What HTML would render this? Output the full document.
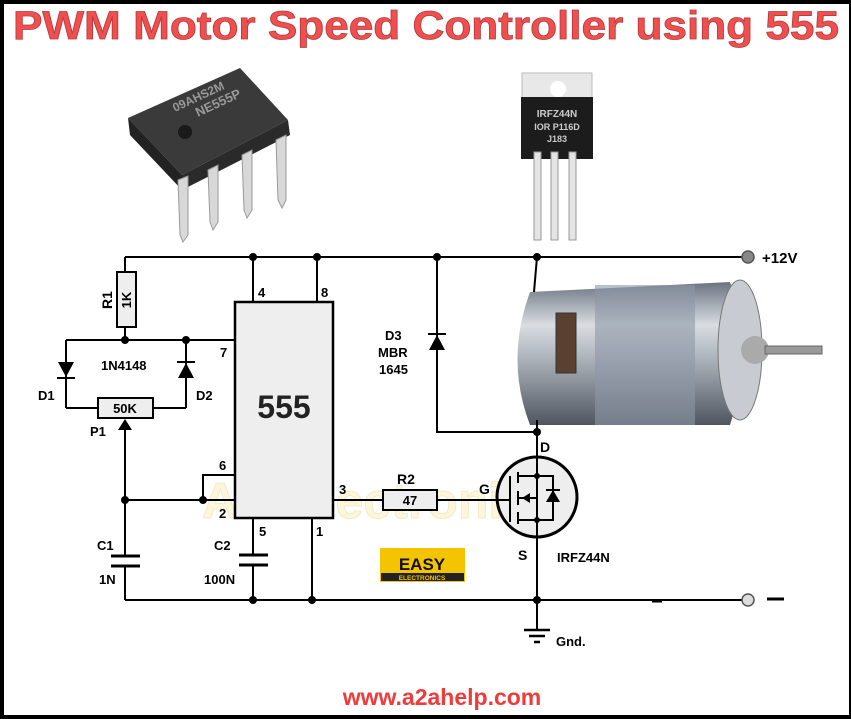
<!DOCTYPE html>
<html><head><meta charset="utf-8"><style>
html,body{margin:0;padding:0;background:#000}
svg{display:block}
text{font-family:"Liberation Sans",sans-serif;font-weight:bold}
</style></head><body>
<svg width="851" height="719" viewBox="0 0 851 719" xmlns="http://www.w3.org/2000/svg">
<rect x="0" y="0" width="851" height="719" fill="#000"/>
<rect x="4" y="4" width="845" height="711" fill="#fff"/>
<text x="426" y="39" text-anchor="middle" font-size="40" fill="#ef4f4f" stroke="#b83a3a" stroke-width="0.8" textLength="826" lengthAdjust="spacingAndGlyphs">PWM Motor Speed Controller using 555</text>

<!-- watermark -->
<text x="380" y="518" font-size="50" text-anchor="middle" fill="#fcf6dc" stroke="#f3ebc4" stroke-width="1">A2aelectronics</text>

<!-- IC chip image -->
<g>
<polygon points="128,118 240,68 288,120 182,175" fill="#3a3a3a"/>
<polygon points="128,118 182,175 182,190 130,135" fill="#222"/>
<polygon points="182,175 288,120 290,135 182,190" fill="#2a2a2a"/>
<circle cx="185" cy="132" r="7" fill="#1a1a1a"/>
<text x="175" y="112" font-size="12" fill="#999" transform="rotate(-25 175 112)">09AHS2M</text>
<text x="198" y="117" font-size="13" fill="#999" transform="rotate(-25 198 117)">NE555P</text>
<g fill="#d8d8d8" stroke="#999" stroke-width="1">
<polygon points="178,180 188,176 188,235 183,242 180,235"/>
<polygon points="208,170 218,165 218,222 213,230 210,222"/>
<polygon points="242,155 252,150 252,210 247,218 244,210"/>
<polygon points="276,140 286,135 286,200 282,208 278,200"/>
</g>
</g>

<!-- Transistor image -->
<g>
<rect x="522" y="73" width="70" height="26" fill="#e8e8e8" stroke="#bbb"/>
<circle cx="558" cy="89" r="8" fill="#fff"/>
<rect x="521" y="97" width="72" height="62" fill="#1c1c1c"/>
<text x="557" y="117" font-size="10" fill="#ccc" text-anchor="middle" font-family="Liberation Mono">IRFZ44N</text>
<text x="557" y="130" font-size="9" fill="#ccc" text-anchor="middle" font-family="Liberation Mono">IOR P116D</text>
<text x="557" y="142" font-size="9" fill="#ccc" text-anchor="middle" font-family="Liberation Mono">J183</text>
<g fill="#e4e4e4" stroke="#999">
<rect x="534" y="152" width="7" height="88"/><rect x="551" y="152" width="7" height="88"/><rect x="569" y="152" width="7" height="88"/>
</g>
</g>

<!-- Motor image -->
<defs>
<linearGradient id="mg" x1="0" y1="0" x2="0" y2="1">
<stop offset="0" stop-color="#6a7380"/><stop offset="0.3" stop-color="#d9dde2"/><stop offset="0.55" stop-color="#a9b0b8"/><stop offset="1" stop-color="#4f5660"/>
</linearGradient>
</defs>
<g>
<path d="M530,292 L730,282 Q755,350 730,425 L530,425 Q505,360 530,292 Z" fill="url(#mg)"/>
<rect x="595" y="285" width="100" height="140" fill="#8e98a6" opacity="0.6"/>
<rect x="556" y="313" width="20" height="60" fill="#5a4030" stroke="#333"/>
<ellipse cx="740" cy="350" rx="22" ry="70" fill="#c8ccd2" stroke="#777"/>
<circle cx="755" cy="350" r="14" fill="#aaa"/>
<rect x="765" y="346" width="57" height="8" fill="#999" stroke="#666"/>
</g>

<!-- Wires -->
<g stroke="#000" stroke-width="2" fill="none">
<line x1="125" y1="257" x2="742" y2="257"/>
<line x1="125" y1="600" x2="742" y2="600"/>
<line x1="125" y1="257" x2="125" y2="272"/>
<line x1="125" y1="327" x2="125" y2="340"/>
<line x1="66" y1="340" x2="235" y2="340"/>
<line x1="66" y1="340" x2="66" y2="408"/>
<line x1="186" y1="340" x2="186" y2="408"/>
<line x1="66" y1="408" x2="98" y2="408"/>
<line x1="153" y1="408" x2="186" y2="408"/>
<line x1="125" y1="428" x2="125" y2="556"/>
<line x1="125" y1="566" x2="125" y2="600"/>
<line x1="125" y1="500" x2="235" y2="500"/>
<polyline points="203,500 203,475 235,475"/>
<line x1="253" y1="257" x2="253" y2="302"/>
<line x1="317" y1="257" x2="317" y2="302"/>
<line x1="253" y1="518" x2="253" y2="555"/>
<line x1="253" y1="565" x2="253" y2="600"/>
<line x1="312" y1="518" x2="312" y2="600"/>
<line x1="333" y1="500" x2="383" y2="500"/>
<line x1="437" y1="500" x2="508" y2="500"/>
<polyline points="437,257 437,432 537,432"/>
<line x1="537" y1="257" x2="534" y2="292"/>
<line x1="537" y1="420" x2="537" y2="630"/>
<line x1="111" y1="556" x2="140" y2="556" stroke-width="3"/>
<line x1="111" y1="566" x2="140" y2="566" stroke-width="3"/>
<line x1="239" y1="555" x2="268" y2="555" stroke-width="3"/>
<line x1="239" y1="565" x2="268" y2="565" stroke-width="3"/>
<line x1="524" y1="630" x2="550" y2="630" stroke-width="2.5"/>
<line x1="529" y1="636" x2="545" y2="636" stroke-width="2.5"/>
<line x1="534" y1="642" x2="540" y2="642" stroke-width="2.5"/>
<line x1="652" y1="601" x2="662" y2="601" stroke-width="3"/>
</g>

<!-- R1 -->
<rect x="117" y="272" width="19" height="55" fill="#eee" stroke="#000" stroke-width="2"/>
<text x="0" y="0" font-size="13" transform="translate(131,300) rotate(-90)" text-anchor="middle">1K</text>
<text x="0" y="0" font-size="14" transform="translate(112,300) rotate(-90)" text-anchor="middle">R1</text>
<!-- diodes -->
<polygon points="58,362 74,362 66,377" fill="#000"/><line x1="57" y1="378" x2="75" y2="378" stroke="#000" stroke-width="2"/>
<polygon points="178,378 194,378 186,363" fill="#000"/><line x1="177" y1="362" x2="195" y2="362" stroke="#000" stroke-width="2"/>
<polygon points="429,350 445,350 437,335" fill="#000"/><line x1="428" y1="334" x2="446" y2="334" stroke="#000" stroke-width="2"/>
<!-- P1 -->
<rect x="98" y="398" width="55" height="20" fill="#eee" stroke="#000" stroke-width="2"/>
<text x="125" y="413" font-size="13" text-anchor="middle">50K</text>
<polygon points="118,430 132,430 125,419" fill="#000"/>
<!-- 555 -->
<rect x="235" y="302" width="98" height="216" fill="#eee" stroke="#000" stroke-width="2.5"/>
<text x="284" y="418" font-size="32" text-anchor="middle" fill="#222">555</text>
<!-- R2 -->
<rect x="383" y="490" width="54" height="20" fill="#eee" stroke="#000" stroke-width="2"/>
<text x="410" y="505" font-size="13" text-anchor="middle">47</text>
<!-- MOSFET -->
<circle cx="537" cy="497" r="40" fill="#eee" stroke="#000" stroke-width="3"/>
<g stroke="#000" stroke-width="2" fill="none">
<line x1="537" y1="457" x2="537" y2="537"/>
<line x1="497" y1="500" x2="510" y2="500"/>
<line x1="510" y1="476" x2="510" y2="522"/>
<line x1="518" y1="472" x2="518" y2="483"/><line x1="518" y1="491" x2="518" y2="505"/><line x1="518" y1="512" x2="518" y2="524"/>
<polyline points="518,476 537,476 553,476 553,520 537,520 518,520"/>
<line x1="518" y1="498" x2="537" y2="498"/>
<line x1="546" y1="490" x2="560" y2="490"/>
</g>
<polygon points="522,498 530,493 530,503" fill="#000"/>
<polygon points="546,502 560,502 553,490" fill="#000"/>
<circle cx="537" cy="476" r="3" fill="#000"/><circle cx="537" cy="520" r="3" fill="#000"/>
<!-- nodes -->
<g fill="#000">
<circle cx="253" cy="257" r="4"/><circle cx="317" cy="257" r="4"/><circle cx="437" cy="257" r="4"/><circle cx="537" cy="257" r="4"/>
<circle cx="125" cy="340" r="4"/><circle cx="186" cy="340" r="4"/>
<circle cx="125" cy="500" r="4"/><circle cx="203" cy="500" r="4"/>
<circle cx="253" cy="600" r="4"/><circle cx="312" cy="600" r="4"/><circle cx="537" cy="600" r="4"/><circle cx="537" cy="432" r="4"/>
</g>
<circle cx="748" cy="257" r="6" fill="#888" stroke="#555" stroke-width="1.5"/>
<circle cx="748" cy="600" r="6" fill="#ddd" stroke="#555" stroke-width="1.5"/>
<line x1="767" y1="599" x2="784" y2="599" stroke="#000" stroke-width="3"/>
<!-- labels -->
<g font-size="13" fill="#000">
<text x="762" y="263" font-size="15">+12V</text>
<text x="258" y="297">4</text><text x="321" y="297">8</text>
<text x="220" y="357">7</text><text x="219" y="470">6</text><text x="219" y="518">2</text>
<text x="339" y="494">3</text><text x="259" y="536">5</text><text x="316" y="536">1</text>
<text x="101" y="370">1N4148</text>
<text x="38" y="400">D1</text><text x="196" y="400">D2</text>
<text x="90" y="436">P1</text>
<text x="97" y="550">C1</text><text x="99" y="584">1N</text>
<text x="214" y="550">C2</text><text x="204" y="584">100N</text>
<text x="397" y="484" font-size="14">R2</text>
<text x="479" y="494" font-size="14">G</text>
<text x="385" y="340">D3</text><text x="378" y="357">MBR</text><text x="379" y="374">1645</text>
<text x="540" y="452" font-size="14">D</text>
<text x="518" y="560" font-size="14">S</text>
<text x="557" y="562">IRFZ44N</text>
<text x="556" y="646">Gnd.</text>
</g>
<!-- Easy electronics logo -->
<rect x="380" y="548" width="85" height="34" fill="#f5c400"/>
<rect x="381" y="573" width="83" height="8" fill="#222"/>
<text x="422" y="570" font-size="17" text-anchor="middle" fill="#111">EASY</text>
<text x="422" y="580" font-size="6.5" text-anchor="middle" fill="#f5c400">ELECTRONICS</text>
<text x="442" y="705" font-size="23" text-anchor="middle" fill="#ef3b3b">www.a2ahelp.com</text>
</svg>
</body></html>
